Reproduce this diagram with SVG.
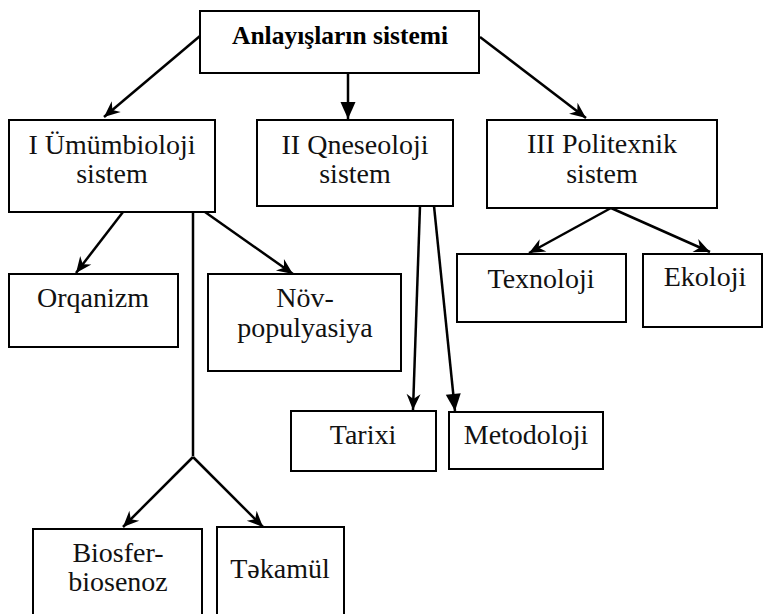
<svg xmlns="http://www.w3.org/2000/svg" width="764" height="614" viewBox="0 0 764 614">
  <defs>
    <style>
      .box { fill: #ffffff; stroke: #000000; stroke-width: 2; }
      .lbl { font-family: "Liberation Serif", "Times New Roman", serif; font-size: 28px; fill: #111111; text-anchor: middle; }
      .title { font-family: "Liberation Serif", "Times New Roman", serif; font-size: 25.5px; font-weight: bold; fill: #000000; text-anchor: middle; }
      .link { fill: none; stroke: #000000; stroke-width: 2.5; }
      .barb { marker-end: url(#barb); }
      .tri { marker-end: url(#tri); }
    </style>
    <marker id="barb" markerUnits="userSpaceOnUse" viewBox="-18 -9 20 18" markerWidth="20" markerHeight="18" refX="0" refY="0" orient="auto">
      <path d="M0,0 L-16,-7 L-11,0 L-16,7 Z" fill="#000000"/>
    </marker>
    <marker id="tri" markerUnits="userSpaceOnUse" viewBox="-18 -9 20 18" markerWidth="20" markerHeight="18" refX="0" refY="0" orient="auto">
      <path d="M0,0 L-17,-7.5 L-17,7.5 Z" fill="#000000"/>
    </marker>
  </defs>

  <rect width="764" height="614" fill="#ffffff"/>

  <!-- connectors -->
  <g id="connectors">
    <line class="link barb" x1="200" y1="36" x2="104" y2="117"/>
    <line class="link tri" x1="348" y1="73" x2="348" y2="119"/>
    <line class="link barb" x1="480" y1="37" x2="586" y2="118"/>

    <line class="link barb" x1="123" y1="212" x2="76" y2="273"/>
    <line class="link barb" x1="205" y1="212" x2="293" y2="274"/>
    <line class="link" x1="193" y1="212" x2="193" y2="456"/>
    <line class="link barb" x1="193" y1="457" x2="123" y2="527"/>
    <line class="link barb" x1="193" y1="457" x2="263" y2="527"/>

    <line class="link barb" x1="420" y1="206" x2="413" y2="410"/>
    <line class="link tri" x1="434" y1="206" x2="455" y2="411"/>

    <line class="link barb" x1="611" y1="208" x2="529" y2="253"/>
    <line class="link barb" x1="611" y1="208" x2="710" y2="252"/>
  </g>

  <!-- nodes -->
  <g id="root">
    <rect class="box" x="200" y="11" width="279" height="62"/>
    <text class="title" x="340" y="44">Anlayışların sistemi</text>
  </g>

  <g id="umumbioloji">
    <rect class="box" x="9" y="120" width="206" height="92"/>
    <text class="lbl" x="112" y="154">I Ümümbioloji</text>
    <text class="lbl" x="112" y="183">sistem</text>
  </g>

  <g id="qneseoloji">
    <rect class="box" x="257" y="120" width="196" height="86"/>
    <text class="lbl" x="355" y="154">II Qneseoloji</text>
    <text class="lbl" x="355" y="183">sistem</text>
  </g>

  <g id="politexnik">
    <rect class="box" x="487" y="120" width="230" height="88"/>
    <text class="lbl" x="602" y="153">III Politexnik</text>
    <text class="lbl" x="602" y="183">sistem</text>
  </g>

  <g id="orqanizm">
    <rect class="box" x="9" y="274" width="169" height="73"/>
    <text class="lbl" x="93" y="307">Orqanizm</text>
  </g>

  <g id="novpopulyasiya">
    <rect class="box" x="208" y="274" width="193" height="97"/>
    <text class="lbl" x="305" y="307">Növ-</text>
    <text class="lbl" x="305" y="337">populyasiya</text>
  </g>

  <g id="texnoloji">
    <rect class="box" x="457" y="254" width="169" height="68"/>
    <text class="lbl" x="541" y="288">Texnoloji</text>
  </g>

  <g id="ekoloji">
    <rect class="box" x="643" y="254" width="119" height="73"/>
    <text class="lbl" x="705" y="286">Ekoloji</text>
  </g>

  <g id="tarixi">
    <rect class="box" x="291" y="411" width="145" height="60"/>
    <text class="lbl" x="363" y="444">Tarixi</text>
  </g>

  <g id="metodoloji">
    <rect class="box" x="449" y="412" width="154" height="57"/>
    <text class="lbl" x="526" y="444">Metodoloji</text>
  </g>

  <g id="biosfer">
    <rect class="box" x="33" y="529" width="169" height="90"/>
    <text class="lbl" x="118" y="562">Biosfer-</text>
    <text class="lbl" x="118" y="591">biosenoz</text>
  </g>

  <g id="tekamul">
    <rect class="box" x="217" y="527" width="127" height="92"/>
    <text class="lbl" x="280" y="578">Təkamül</text>
  </g>
</svg>
